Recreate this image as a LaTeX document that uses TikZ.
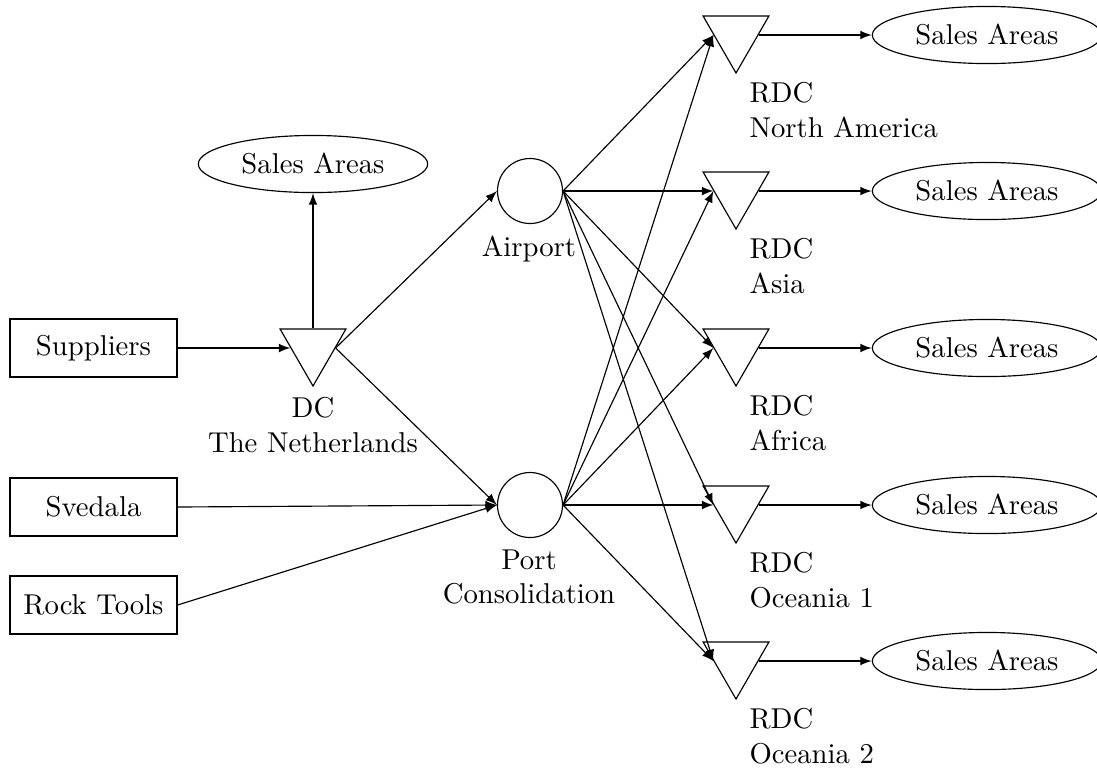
\documentclass[tikz,border=0pt]{standalone}
\usetikzlibrary{shapes.geometric}
\begin{document}
\begin{tikzpicture}[x=0.3485pt, y=-0.3485pt,
  every node/.style={font=\normalsize},
  srcbox/.style={draw, rectangle, minimum width=58.2pt, minimum height=20.2pt},
  hub/.style={draw, circle, minimum size=22.65pt, inner sep=0pt},
  depot/.style={draw, regular polygon, regular polygon sides=3,
                shape border rotate=180, minimum size=26.5pt, inner sep=0pt},
  market/.style={draw, ellipse, minimum width=79.5pt, minimum height=19.9pt},
  caption/.style={inner sep=0pt, align=center, anchor=north},
  rdccaption/.style={inner sep=0pt, align=left, anchor=north west},
  flow/.style={-latex}]
\useasboundingbox (0,0) rectangle (1097,767);

% sources
\node[srcbox] (sup)  at (93.5,348) {Suppliers};
\node[srcbox] (sved) at (93.5,507) {Svedala};
\node[srcbox] (rock) at (93.5,605) {Rock Tools};

% central distribution centre
\node[depot] (dc) at (313,348) {};
\node[caption] (dclab) at (313,397) {DC\\The Netherlands};
\node[market] (sadc) at (313,164) {Sales Areas};

% consolidation hubs
\node[hub] (air)  at (530,191) {};
\node[caption] (airlab) at (529,235) {Airport};
\node[hub] (port) at (530,505) {};
\node[caption] (portlab) at (529,549) {Port\\Consolidation};

% regional distribution centres and their sales areas
\foreach \i/\y/\name in {1/35/North America, 2/191/Asia, 3/348/Africa,
                         4/505/Oceania 1, 5/661/Oceania 2}{
  \node[depot] (rdc\i) at (736,\y) {};
  \node[rdccaption] (rdclab\i) at (749,\y+47) {RDC\\\name};
  \node[market] (sa\i) at (987,\y) {Sales Areas};
  \draw[flow] (rdc\i.east) -- (sa\i.west);
}

% flows
\draw[flow] (sup.east) -- (dc.west);
\draw[flow] (dc.north) -- (sadc.south);
\draw[flow] (dc.east) -- (air.west);
\draw[flow] (dc.east) -- (port.west);
\draw[flow] (sved.east) -- (port.west);
\draw[flow] (rock.east) -- (port.west);
\foreach \i in {1,...,5}{
  \draw[flow] (air.east) -- (rdc\i.west);
  \draw[flow] (port.east) -- (rdc\i.west);
}
\end{tikzpicture}
\end{document}
